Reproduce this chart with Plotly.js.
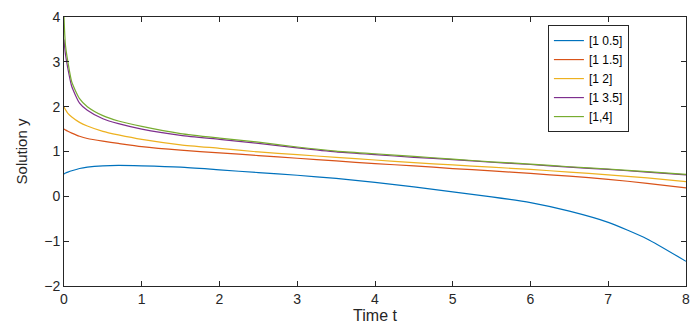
<!DOCTYPE html>
<html>
<head>
<meta charset="utf-8">
<script src="https://cdn.plot.ly/plotly-3.0.1.min.js"></script>
<style>
  html, body { margin: 0; padding: 0; background: #fff; }
  #chart { width: 700px; height: 325px; }
</style>
</head>
<body>
<div id="chart"></div>
<script>
// valeurs
var t = [0, 0.01, 0.02, 0.05, 0.1, 0.2, 0.3, 0.5, 0.7, 1, 1.5, 2, 2.5, 3, 3.5, 4, 4.5, 5, 5.5, 6, 6.5, 7, 7.5, 8];

var y05 = [0.5, 0.51, 0.52, 0.54, 0.57, 0.62, 0.65, 0.68, 0.69, 0.68, 0.65, 0.59, 0.53, 0.47, 0.40, 0.31, 0.21, 0.10, -0.01, -0.14, -0.33, -0.58, -0.95, -1.45];
var y15 = [1.5, 1.49, 1.48, 1.45, 1.41, 1.34, 1.29, 1.23, 1.18, 1.11, 1.03, 0.97, 0.91, 0.85, 0.79, 0.73, 0.68, 0.62, 0.57, 0.51, 0.45, 0.38, 0.29, 0.19];
var y2 = [2.0, 1.96, 1.93, 1.85, 1.77, 1.65, 1.57, 1.45, 1.37, 1.27, 1.15, 1.07, 0.99, 0.93, 0.87, 0.81, 0.75, 0.70, 0.65, 0.60, 0.54, 0.48, 0.41, 0.33];
var y35 = [3.5, 3.3, 3.15, 2.85, 2.45, 2.08, 1.92, 1.73, 1.62, 1.50, 1.36, 1.27, 1.18, 1.08, 0.99, 0.93, 0.87, 0.82, 0.76, 0.71, 0.65, 0.60, 0.54, 0.48];
var y4 = [4.0, 3.6, 3.35, 3.0, 2.55, 2.18, 2.0, 1.80, 1.68, 1.56, 1.40, 1.30, 1.21, 1.10, 1.01, 0.95, 0.89, 0.83, 0.77, 0.72, 0.66, 0.61, 0.55, 0.49];

var names = ['[1 0.5]', '[1 1.5]', '[1 2]', '[1 3.5]', '[1,4]'];
var series = [y05, y15, y2, y35, y4];
var couleurs = ['#0072BD', '#D95319', '#EDB120', '#7E2F8E', '#77AC30'];

var data = series.map(function (ys, i) {
    return {
        x: t, y: ys, name: names[i],
        mode: 'lines',
        line: { color: couleurs[i], width: 1.2, shape: 'spline', smoothing: 0.6 }
    };
});

var axe = {
    showline: true, linecolor: '#262626', linewidth: 1,
    mirror: 'ticks', ticks: 'inside', ticklen: 5, tickcolor: '#262626',
    showgrid: false, zeroline: false,
    tickfont: { family: 'Liberation Sans, Arial, sans-serif', size: 14, color: '#262626' }
};

var layout = {
    width: 700, height: 325,
    margin: { l: 64, r: 14, t: 17, b: 39 },
    paper_bgcolor: '#fff', plot_bgcolor: '#fff',
    showlegend: true,
    legend: {
        x: 0.778, y: 0.97, xanchor: 'left', yanchor: 'top',
        bordercolor: '#262626', borderwidth: 1, bgcolor: '#fff',
        font: { family: 'Liberation Sans, Arial, sans-serif', size: 12, color: '#000' }
    },
    xaxis: Object.assign({}, axe, {
        range: [0, 8], dtick: 1, tick0: 0,
        title: { text: 'Time t', standoff: 1, font: { family: 'Liberation Sans, Arial, sans-serif', size: 16, color: '#262626' } }
    }),
    yaxis: Object.assign({}, axe, {
        range: [-2, 4], dtick: 1, tick0: 0,
        title: { text: 'Solution y', standoff: 12, font: { family: 'Liberation Sans Narrow, Liberation Sans, Arial, sans-serif', size: 15, color: '#262626' } }
    })
};

Plotly.newPlot('chart', data, layout, { displayModeBar: false, staticPlot: true });
</script>
</body>
</html>
